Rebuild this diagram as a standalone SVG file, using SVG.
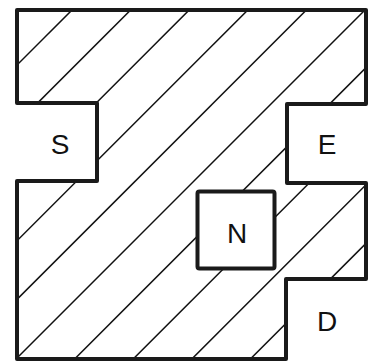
<svg xmlns="http://www.w3.org/2000/svg" width="370" height="363" viewBox="0 0 370 363">
  <style>
    .outline { fill: none; stroke: #1a1a1a; stroke-width: 4; stroke-linejoin: round; }
    .hatch { stroke: #111; stroke-width: 1.5; }
    .lbl { font-family: "Liberation Sans", Arial, sans-serif; font-size: 28px; fill: #111; text-anchor: middle; }
  </style>
  <defs>
    <clipPath id="regionClip">
      <path d="M17,10 H366 V104 H287 V183 H366 V279 H286 V359 H17 V181 H97 V103 H17 Z"/>
    </clipPath>
  </defs>
  <rect width="370" height="363" fill="#ffffff"/>
  <g id="region">
    <g id="hatching" clip-path="url(#regionClip)">
      <line class="hatch" x1="102" y1="-20" x2="-318" y2="400"/>
      <line class="hatch" x1="160.6" y1="-20" x2="-259.4" y2="400"/>
      <line class="hatch" x1="219.2" y1="-20" x2="-200.8" y2="400"/>
      <line class="hatch" x1="277.8" y1="-20" x2="-142.2" y2="400"/>
      <line class="hatch" x1="336.4" y1="-20" x2="-83.6" y2="400"/>
      <line class="hatch" x1="395" y1="-20" x2="-25" y2="400"/>
      <line class="hatch" x1="453.6" y1="-20" x2="33.6" y2="400"/>
      <line class="hatch" x1="512.2" y1="-20" x2="92.2" y2="400"/>
      <line class="hatch" x1="570.8" y1="-20" x2="150.8" y2="400"/>
      <line class="hatch" x1="629.4" y1="-20" x2="209.4" y2="400"/>
    </g>
    <path class="outline" d="M17,10 H366 V104 H287 V183 H366 V279 H286 V359 H17 V181 H97 V103 H17 Z"/>
  </g>
  <g id="node-N">
    <rect x="197.5" y="191.5" width="77" height="77" rx="2" fill="#ffffff" stroke="#1a1a1a" stroke-width="4"/>
    <text class="lbl" x="237" y="243">N</text>
  </g>
  <g id="node-S">
    <text class="lbl" x="60" y="154">S</text>
  </g>
  <g id="node-E">
    <text class="lbl" x="327" y="154">E</text>
  </g>
  <g id="node-D">
    <text class="lbl" x="327" y="331">D</text>
  </g>
  <g id="connectors"/>
</svg>
